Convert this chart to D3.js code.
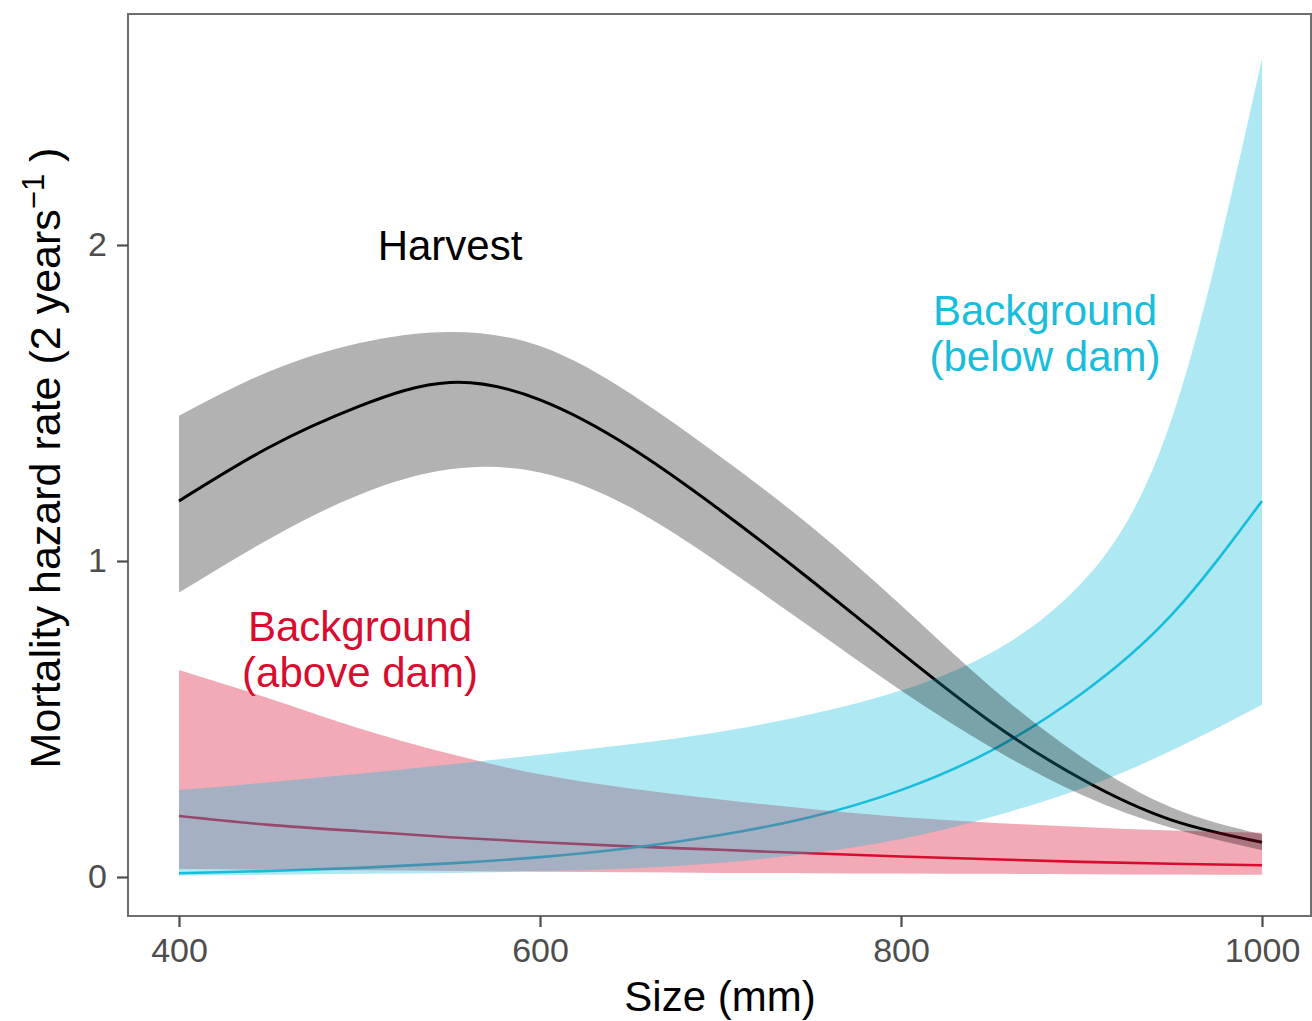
<!DOCTYPE html>
<html>
<head>
<meta charset="utf-8">
<script src="https://cdn.jsdelivr.net/npm/d3@7"></script>
<style>
  html, body { margin: 0; padding: 0; background: #fff; }
  svg { display: block; }
  text { font-family: "Liberation Sans", Arial, Helvetica, sans-serif; }
</style>
</head>
<body>
<svg id="chart" width="1312" height="1021"></svg>
<script>
// ---- data ----
const sizes = [400, 450, 500, 550, 600, 650, 700, 750, 800, 850, 900, 950, 1000];

const harvestMid   = [1.19, 1.36, 1.49, 1.565, 1.51, 1.36, 1.16, 0.94, 0.71, 0.49, 0.31, 0.18, 0.11];
const harvestUpper = [1.46, 1.60, 1.69, 1.725, 1.68, 1.53, 1.33, 1.11, 0.86, 0.60, 0.38, 0.22, 0.135];
const harvestLower = [0.90, 1.07, 1.21, 1.29, 1.28, 1.17, 0.99, 0.79, 0.59, 0.41, 0.26, 0.155, 0.085];

const aboveMid   = [0.193, 0.165, 0.145, 0.126, 0.110, 0.097, 0.086, 0.075, 0.065, 0.056, 0.048, 0.042, 0.037];
const aboveUpper = [0.655, 0.565, 0.47, 0.39, 0.325, 0.28, 0.245, 0.215, 0.19, 0.172, 0.158, 0.147, 0.14];
const aboveLower = [0.025, 0.023, 0.021, 0.019, 0.017, 0.015, 0.013, 0.012, 0.011, 0.010, 0.009, 0.008, 0.007];

const belowMid   = [0.012, 0.019, 0.029, 0.043, 0.063, 0.092, 0.133, 0.19, 0.275, 0.40, 0.58, 0.83, 1.19];
const belowUpper = [0.275, 0.30, 0.327, 0.356, 0.387, 0.42, 0.46, 0.515, 0.59, 0.71, 0.93, 1.45, 2.59];
const belowLower = [0.005, 0.007, 0.01, 0.013, 0.018, 0.027, 0.045, 0.075, 0.12, 0.19, 0.28, 0.40, 0.545];

const xTicks = [400, 600, 800, 1000];
const yTicks = [0, 1, 2];

// ---- layout ----
const svg = d3.select("#chart");
const panel = { left: 128, top: 14, right: 1311, bottom: 916 };

const x = d3.scaleLinear().domain([400, 1000]).range([179, 1262]);
const y = d3.scaleLinear().domain([0, 2]).range([877, 245]);

const RED = "#d90c2f", CYAN = "#18bddc";

function series(mid, lo, hi) {
  return sizes.map((s, i) => ({ s, mid: mid[i], lo: lo[i], hi: hi[i] }));
}
const groups = [
  { key: "above", data: series(aboveMid, aboveLower, aboveUpper), line: RED, fill: RED, op: 0.35, w: 2.6 },
  { key: "below", data: series(belowMid, belowLower, belowUpper), line: CYAN, fill: CYAN, op: 0.35, w: 2.6 },
  { key: "harvest", data: series(harvestMid, harvestLower, harvestUpper), line: "#000", fill: "#000", op: 0.30, w: 3 }
];

const curve = d3.curveNatural;
const line = d3.line().x(d => x(d.s)).y(d => y(d.mid)).curve(curve);
const area = d3.area().x(d => x(d.s)).y0(d => y(d.lo)).y1(d => y(d.hi)).curve(curve);

svg.append("clipPath").attr("id", "clip").append("rect")
  .attr("x", panel.left).attr("y", panel.top)
  .attr("width", panel.right - panel.left).attr("height", panel.bottom - panel.top);

const g = svg.append("g").attr("clip-path", "url(#clip)");

// lines first, ribbons on top (as in the reference)
groups.forEach(gr => {
  g.append("path").datum(gr.data).attr("d", line)
    .attr("fill", "none").attr("stroke", gr.line).attr("stroke-width", gr.w);
});
groups.forEach(gr => {
  g.append("path").datum(gr.data).attr("d", area)
    .attr("fill", gr.fill).attr("fill-opacity", gr.op).attr("stroke", "none");
});

// panel border
svg.append("rect")
  .attr("x", panel.left).attr("y", panel.top)
  .attr("width", panel.right - panel.left).attr("height", panel.bottom - panel.top)
  .attr("fill", "none").attr("stroke", "#6e6e6e").attr("stroke-width", 2);

// axes
const xAxis = svg.append("g").attr("transform", `translate(0,${panel.bottom})`)
  .call(d3.axisBottom(x).tickValues(xTicks).tickSize(11).tickPadding(11).tickFormat(d3.format("d")));
const yAxis = svg.append("g").attr("transform", `translate(${panel.left},0)`)
  .call(d3.axisLeft(y).tickValues(yTicks).tickSize(11).tickPadding(10).tickFormat(d3.format("d")));
[xAxis, yAxis].forEach(a => {
  a.select(".domain").remove();
  a.selectAll(".tick line").attr("stroke", "#4d4d4d").attr("stroke-width", 2.2);
  a.selectAll(".tick text").attr("fill", "#4d4d4d")
    .style("font-size", "34px").style("font-family", '"Liberation Sans", Arial, sans-serif');
});

// axis titles
svg.append("text").attr("x", 720).attr("y", 1011).attr("text-anchor", "middle")
  .style("font-size", "42px").attr("fill", "#000").text("Size (mm)");

const yt = svg.append("text").attr("transform", "translate(60,458) rotate(-90)")
  .attr("text-anchor", "middle").style("font-size", "43px").attr("fill", "#000");
yt.append("tspan").text("Mortality hazard rate (2 years");
yt.append("tspan").attr("dy", -16).style("font-size", "31px").text("\u22121");
yt.append("tspan").attr("dy", 16).text(" )");

// annotations
svg.append("text").attr("x", 450).attr("y", 260).attr("text-anchor", "middle")
  .style("font-size", "42px").attr("fill", "#000").text("Harvest");

const redLab = svg.append("text").attr("text-anchor", "middle").style("font-size", "42px").attr("fill", RED);
redLab.append("tspan").attr("x", 360).attr("y", 641).text("Background");
redLab.append("tspan").attr("x", 360).attr("y", 687).text("(above dam)");

const cyanLab = svg.append("text").attr("text-anchor", "middle").style("font-size", "42px").attr("fill", CYAN);
cyanLab.append("tspan").attr("x", 1045).attr("y", 325).text("Background");
cyanLab.append("tspan").attr("x", 1045).attr("y", 371).text("(below dam)");
</script>
</body>
</html>
